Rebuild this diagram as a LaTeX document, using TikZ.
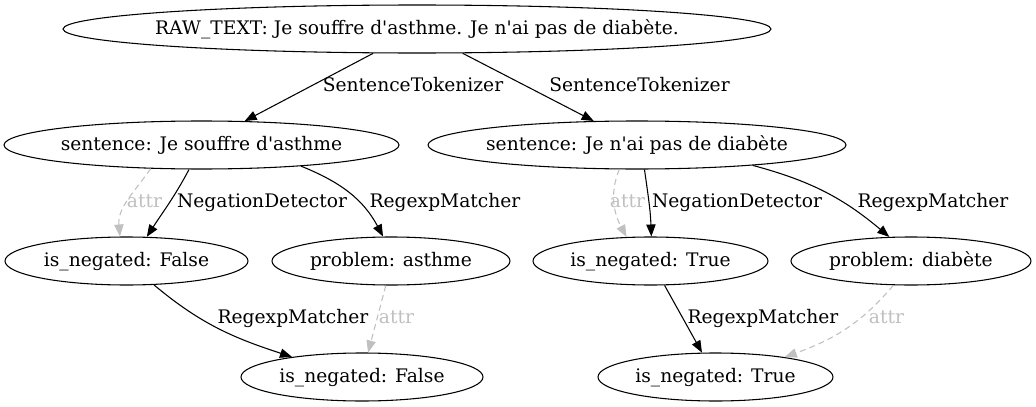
\documentclass[tikz,border=0pt]{standalone}
\usepackage{fontspec}
\setmainfont{DejaVu Serif}
\usetikzlibrary{arrows.meta,shapes.geometric}
\definecolor{attrgray}{HTML}{C0C0C0}
\newcommand{\zbox}[1]{\makebox[0pt]{#1}}
\tikzset{
  gvnode/.style={draw, ellipse, line width=0.8pt, inner sep=0pt, minimum height=36pt,
    font=\fontsize{14pt}{16pt}\selectfont, text height=10pt, text depth=2.5pt},
  gvlabel/.style={inner sep=0pt, font=\fontsize{14pt}{16pt}\selectfont, text height=10pt, text depth=2.5pt},
  attrlabel/.style={gvlabel, text=attrgray},
  gvedge/.style={line width=0.8pt, -{Triangle[length=9pt,width=7pt]}},
  attredge/.style={gvedge, draw=attrgray, dash pattern=on 4.5pt off 3pt, -{Triangle[length=9pt,width=7pt,fill=attrgray]}}
}
\begin{document}
\begin{tikzpicture}[x=0.75pt,y=-0.75pt]
\useasboundingbox[fill=white] (0,0) rectangle (1036,407);
% nodes
\node[gvnode, minimum width=531pt] (raw) at (417,29) {\zbox{RAW\_TEXT: Je souffre d\textquotesingle asthme. Je n\textquotesingle ai pas de diabète.}};
\node[gvnode, minimum width=296.25pt] (s1) at (201.5,145) {\zbox{sentence: Je souffre d\textquotesingle asthme}};
\node[gvnode, minimum width=313.5pt] (s2) at (637,145) {\zbox{sentence: Je n\textquotesingle ai pas de diabète}};
\node[gvnode, minimum width=182.25pt] (nf) at (126.5,261) {\zbox{is\_negated: False}};
\node[gvnode, minimum width=178.5pt] (pa) at (391,261) {\zbox{problem: asthme}};
\node[gvnode, minimum width=176.25pt] (nt) at (650.5,261) {\zbox{is\_negated: True}};
\node[gvnode, minimum width=180pt] (pd) at (911,261) {\zbox{problem: diabète}};
\node[gvnode, minimum width=181.5pt] (nfb) at (362,377) {\zbox{is\_negated: False}};
\node[gvnode, minimum width=176.25pt] (ntb) at (715.5,377) {\zbox{is\_negated: True}};
% edges
\draw[gvedge] (raw.-151.4) -- (s1.29);
\draw[gvedge] (raw.-28.1) -- (s2.151.3);
\draw[attredge] (s1.-155.8) to[out=-125,in=95] (nf.105.2);
\draw[gvedge] (s1.-117.5) to[out=-118,in=57] (nf.50.9);
\draw[gvedge] (s1.-12.3) to[out=-22,in=118] (pa.108.4);
\draw[gvedge] (nf.-41) to[out=-40,in=162] (nfb.164.5);
\draw[attredge] (pa.-102) -- (nfb.76);
\draw[attredge] (s2.-126.9) to[out=-112,in=118] (nt.135.6);
\draw[gvedge] (s2.-73.7) to[out=-82,in=92] (nt.88.8);
\draw[gvedge] (s2.-10.4) to[out=-15,in=140] (pd.132.5);
\draw[gvedge] (nt.-60.6) -- (ntb.119.4);
\draw[attredge] (pd.-126.9) to[out=-130,in=20] (ntb.16.5);
% edge labels
\node[gvlabel] (l1) at (413,86.5) {SentenceTokenizer};
\node[gvlabel] (l2) at (639.5,86.5) {SentenceTokenizer};
\node[attrlabel] (l3) at (144.5,202.5) {attr};
\node[gvlabel] (l4) at (262,202.5) {NegationDetector};
\node[gvlabel] (l5) at (445,202.5) {RegexpMatcher};
\node[gvlabel] (l6) at (293,318.5) {RegexpMatcher};
\node[attrlabel] (l7) at (396.5,318.5) {attr};
\node[attrlabel] (l8) at (627.5,202.5) {attr};
\node[gvlabel] (l9) at (737,202.5) {NegationDetector};
\node[gvlabel] (l10) at (933,202.5) {RegexpMatcher};
\node[gvlabel] (l11) at (763,318.5) {RegexpMatcher};
\node[attrlabel] (l12) at (886.5,318.5) {attr};
\end{tikzpicture}
\end{document}
